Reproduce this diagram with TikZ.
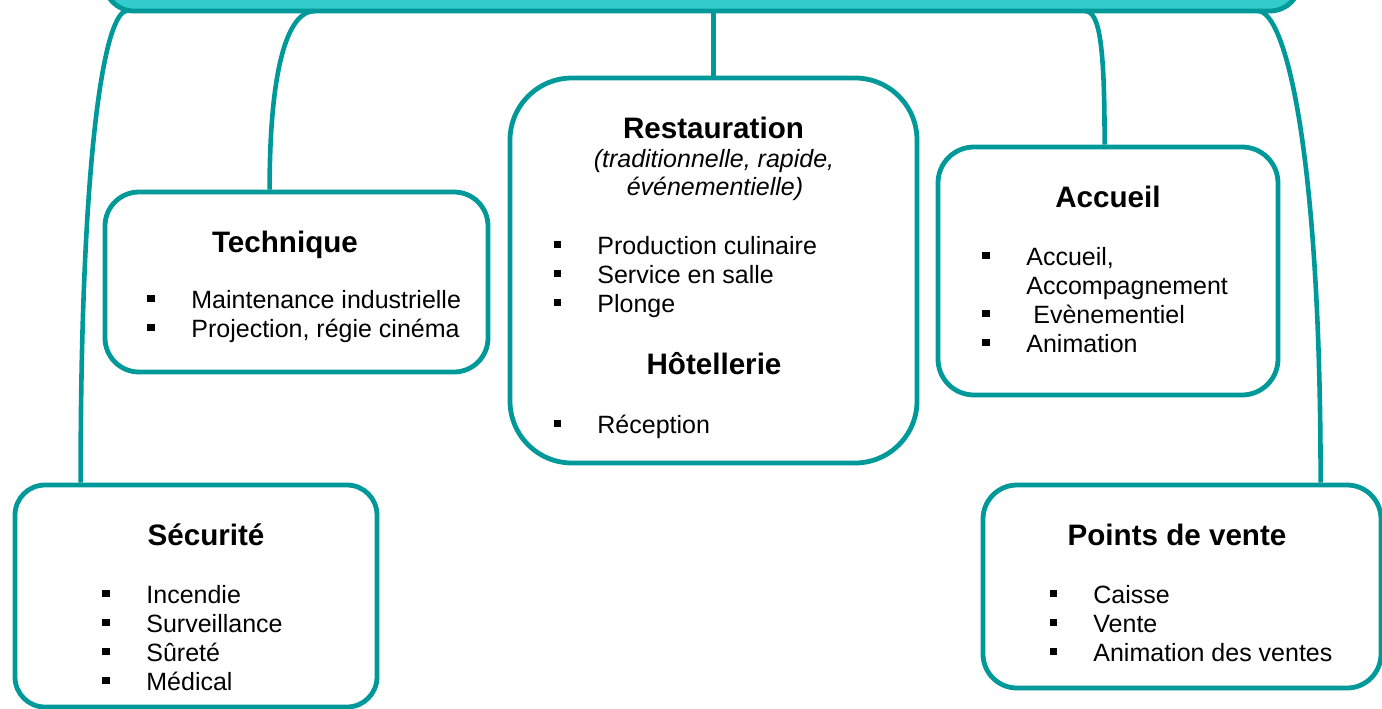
\documentclass[tikz,border=0pt]{standalone}
\usepackage{fontspec}
\setmainfont{Liberation Sans}
\newcommand{\corps}{\fontsize{12.5pt}{14.5pt}\selectfont}
\newcommand{\gras}{\fontsize{14.8pt}{17pt}\selectfont\bfseries}
\begin{document}
\begin{tikzpicture}[x=0.5pt,y=-0.5pt,
  cadre/.style={draw=bord,line width=2.4pt,fill=white,rounded corners=#1,inner sep=0pt},
  lien/.style={draw=bord,line width=2.3pt},
  titre/.style={anchor=base,inner sep=0pt,font=\gras},
  sous/.style={anchor=base,inner sep=0pt,font=\corps\itshape},
  item/.style={anchor=base west,inner sep=0pt,font=\corps},
  puce/.style={fill=black,inner sep=0pt,minimum size=3.8pt}]
  \definecolor{bord}{HTML}{009999}
  \definecolor{barre}{HTML}{33CCCC}
  \useasboundingbox (0,0) rectangle (1382,708);
  \clip (0,0) rectangle (1382,708);
  \node [draw=bord,fill=barre,line width=2.4pt,rounded corners=15pt,minimum width=598pt,minimum height=40pt] (tete) at (702,-29) {};
  \node [cadre=15pt,minimum width=181pt,minimum height=111pt] (secu) at (196,596) {};
  \node [cadre=17pt,minimum width=191.5pt,minimum height=90pt] (tech) at (296.5,282) {};
  \node [cadre=31pt,minimum width=203.5pt,minimum height=192.5pt] (resto) at (713.5,270.5) {};
  \node [cadre=18pt,minimum width=170pt,minimum height=124pt] (accu) at (1108,271) {};
  \node [cadre=17pt,minimum width=199pt,minimum height=101.5pt] (vente) at (1182,586.5) {};
  \coordinate (b1) at (127,11);
  \coordinate (b2) at (315,11);
  \coordinate (b3) at (713.5,11);
  \coordinate (b4) at (1085,11);
  \coordinate (b5) at (1258,11);
  \draw [lien] (b1) .. controls +(-22,0) and +(0,-335) .. ([xshift=34pt]secu.north west);
  \draw [lien] (b2) .. controls +(-30,0) and +(0,-112) .. ([xshift=83.5pt]tech.north west);
  \draw [lien] (b3) -- (resto.north);
  \draw [lien] (b4) .. controls +(15,0) and +(0,-97) .. ([xshift=84.5pt]accu.north west);
  \draw [lien] (b5) .. controls +(27,0) and +(0,-335) .. ([xshift=170pt]vente.north west);
  \node [titre] (t-secu) at (206,545) {Sécurité};
  \foreach \t/\y [count=\i] in {Incendie/603,Surveillance/632,Sûreté/661,Médical/690} {
    \node [puce] (p-secu-\i) at (106,\y-9.5) {};
    \node [item] (i-secu-\i) at (146,\y) {\t};
  }
  \node [titre] (t-tech) at (285,252) {Technique};
  \foreach \t/\y [count=\i] in {Maintenance industrielle/308,{Projection, régie cinéma}/337} {
    \node [puce] (p-tech-\i) at (151,\y-9.5) {};
    \node [item] (i-tech-\i) at (191,\y) {\t};
  }
  \node [titre] (t-resto) at (713.5,138) {Restauration};
  \node [sous] (s-resto-1) at (714,167) {(traditionnelle, rapide,};
  \node [sous] (s-resto-2) at (715,195) {événementielle)};
  \foreach \t/\y [count=\i] in {Production culinaire/254,Service en salle/283,Plonge/312} {
    \node [puce] (p-resto-\i) at (557.5,\y-9.5) {};
    \node [item] (i-resto-\i) at (597,\y) {\t};
  }
  \node [titre] (t-hotel) at (714,374) {Hôtellerie};
  \node [puce] (p-hotel) at (557.5,423.5) {};
  \node [item] (i-hotel) at (597,433) {Réception};
  \node [titre] (t-accu) at (1108,207) {Accueil};
  \node [puce] (p-accu-1) at (986,255.5) {};
  \node [item] (i-accu-1) at (1026,265) {Accueil,};
  \node [item] (i-accu-1b) at (1026,294) {Accompagnement};
  \node [puce] (p-accu-2) at (986,313.5) {};
  \node [item] (i-accu-2) at (1033,323) {Evènementiel};
  \node [puce] (p-accu-3) at (986,342.5) {};
  \node [item] (i-accu-3) at (1026,352) {Animation};
  \node [titre] (t-vente) at (1177,545) {Points de vente};
  \foreach \t/\y [count=\i] in {Caisse/603,Vente/632,Animation des ventes/661} {
    \node [puce] (p-vente-\i) at (1053.5,\y-9.5) {};
    \node [item] (i-vente-\i) at (1093,\y) {\t};
  }
\end{tikzpicture}
\end{document}
